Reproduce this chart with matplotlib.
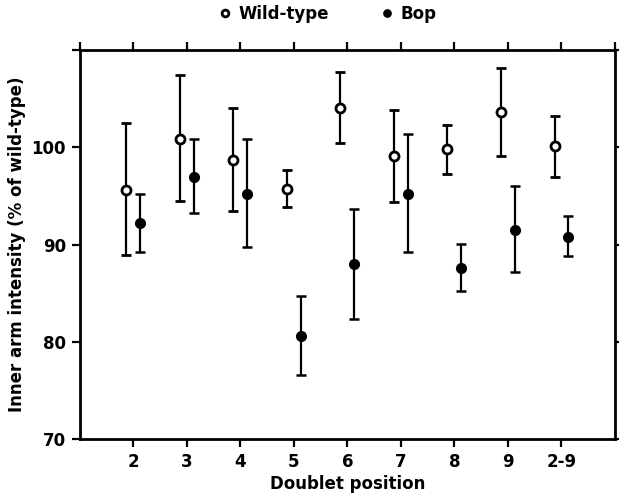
import matplotlib
matplotlib.use("Agg")
import matplotlib.pyplot as plt
import numpy as np

# doublet positions (last one is the pooled 2-9 value)
positions = ["2", "3", "4", "5", "6", "7", "8", "9", "2-9"]

wt_mean = [95.6, 100.9, 98.7, 95.7, 104.0, 99.1, 99.8, 103.6, 100.1]
wt_top = [102.5, 107.4, 104.0, 97.7, 107.7, 103.8, 102.3, 108.2, 103.2]
wt_bot = [88.9, 94.5, 93.5, 93.9, 100.4, 94.4, 97.3, 99.1, 97.0]

bop_mean = [92.2, 97.0, 95.2, 80.6, 88.0, 95.2, 87.6, 91.5, 90.8]
bop_top = [95.2, 100.9, 100.9, 84.7, 93.7, 101.4, 90.1, 96.0, 92.9]
bop_bot = [89.2, 93.3, 89.8, 76.6, 82.4, 89.2, 85.2, 87.2, 88.8]

plt.rcParams.update({"font.family": "DejaVu Sans", "font.weight": "bold"})

fig = plt.figure(figsize=(6.19, 4.98), dpi=100)
ax = fig.add_axes([0.129, 0.118, 0.8645, 0.7816])

x = np.arange(2, 2 + len(positions))
off = 0.13

wt_err = [np.subtract(wt_mean, wt_bot), np.subtract(wt_top, wt_mean)]
bop_err = [np.subtract(bop_mean, bop_bot), np.subtract(bop_top, bop_mean)]

ax.errorbar(x - off, wt_mean, yerr=wt_err, fmt="o", ms=6.5, mfc="white", mec="black",
            mew=2, ecolor="black", elinewidth=1.6, capsize=3.5, capthick=1.8,
            color="black", label="Wild-type")
ax.errorbar(x + off, bop_mean, yerr=bop_err, fmt="o", ms=7, mfc="black", mec="black",
            ecolor="black", elinewidth=1.6, capsize=3.5, capthick=1.8,
            color="black", label="Bop")

ax.set_xlim(1, 11)
ax.set_ylim(70, 110)
for s in ax.spines.values():
    s.set_linewidth(2)

ax.set_xticks(list(x), positions)
ax.tick_params(axis="both", direction="out", length=6, width=1.6, labelsize=12, pad=4)

# ticks on top and right, including the corners
top = ax.secondary_xaxis("top")
top.set_xticks([1] + list(x) + [11])
top.tick_params(direction="out", length=6, width=1.6, labeltop=False)
top.spines["top"].set_visible(False)
right = ax.secondary_yaxis("right")
right.set_yticks([70, 80, 90, 100, 110])
right.tick_params(direction="out", length=6, width=1.6, labelright=False)
right.spines["right"].set_visible(False)
ax.set_yticks([70, 80, 90, 100, 110], ["70", "80", "90", "100", ""])

ax.set_xlabel("Doublet position", fontsize=12, fontweight="bold", labelpad=3)
ax.set_ylabel("Inner arm intensity (% of wild-type)", fontsize=12, fontweight="bold", labelpad=4)

h, l = ax.get_legend_handles_labels()
fig.legend([hh[0] for hh in h], l, loc="upper center", bbox_to_anchor=(0.53, 1.02),
           ncol=2, frameon=False, fontsize=12, handlelength=0.6, handletextpad=0.5,
           columnspacing=3.2, markerscale=0.75)

fig.savefig("out.png", dpi=100)
